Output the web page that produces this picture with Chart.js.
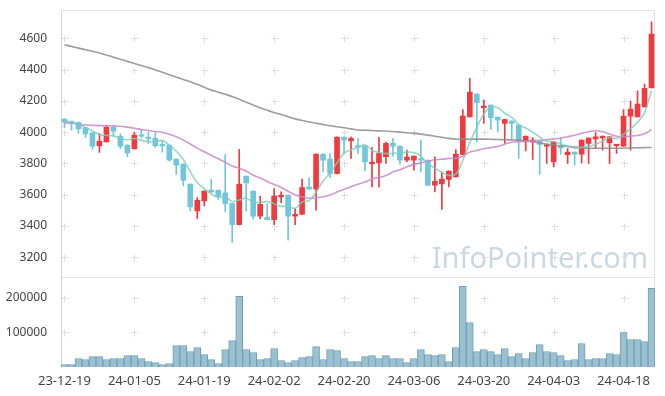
<!DOCTYPE html>
<html><head><meta charset="utf-8">
<script src="https://cdn.jsdelivr.net/npm/chart.js@4.4.1/dist/chart.umd.min.js"></script>
<style>html,body{margin:0;padding:0;background:#fff;}canvas{display:block;}</style>
</head><body>
<canvas id="c" width="665" height="396"></canvas>
<script>
const dates = ["23-12-19","23-12-20","23-12-21","23-12-22","23-12-26","23-12-27","23-12-28","24-01-02","24-01-03","24-01-04",
"24-01-05","24-01-08","24-01-09","24-01-10","24-01-11","24-01-12","24-01-15","24-01-16","24-01-17","24-01-18",
"24-01-19","24-01-22","24-01-23","24-01-24","24-01-25","24-01-26","24-01-29","24-01-30","24-01-31","24-02-01",
"24-02-02","24-02-05","24-02-06","24-02-07","24-02-08","24-02-13","24-02-14","24-02-15","24-02-16","24-02-19",
"24-02-20","24-02-21","24-02-22","24-02-23","24-02-26","24-02-27","24-02-28","24-02-29","24-03-04","24-03-05",
"24-03-06","24-03-07","24-03-08","24-03-11","24-03-12","24-03-13","24-03-14","24-03-15","24-03-18","24-03-19",
"24-03-20","24-03-21","24-03-22","24-03-25","24-03-26","24-03-27","24-03-28","24-03-29","24-04-01","24-04-02",
"24-04-03","24-04-04","24-04-05","24-04-08","24-04-09","24-04-11","24-04-12","24-04-15","24-04-16","24-04-17",
"24-04-18","24-04-19","24-04-22","24-04-23","24-04-24"];
const opens = [4083,4070,4062,4028,3996,3912,3938,4032,3974,3917,
3893,3983,3968,3960,3919,3917,3827,3795,3667,3496,
3560,3628,3628,3611,3543,3408,3718,3622,3462,3455,
3440,3585,3596,3462,3474,3649,3635,3859,3827,3735,
3968,3944,3910,3910,3797,3803,3842,3928,3910,3821,
3821,3825,3820,3660,3669,3697,3714,3857,4098,4244,
4156,4173,4096,4056,4071,4045,3938,3938,3942,3910,
3810,3910,3855,3872,3859,3928,3957,3963,3932,3913,
3910,4102,4098,4162,4284];
const highs = [4085,4072,4066,4030,3998,3992,4045,4034,3989,3919,
3998,4017,4000,3998,3944,3919,3829,3797,3669,3581,
3625,3697,3630,3857,3545,3889,3720,3624,3590,3543,
3639,3617,3598,3511,3699,3707,3861,3861,3862,3970,
3970,3970,3960,3912,3902,3966,3936,3960,3912,3885,
3848,3949,3822,3842,3746,3752,3889,4145,4344,4246,
4205,4175,4098,4083,4073,4047,3976,3966,3944,3921,
3940,3963,3895,3874,3951,3964,3998,3976,3972,3919,
4145,4200,4265,4308,4707];
const lows = [4028,4013,3992,3966,3889,3870,3936,3976,3893,3842,
3891,3962,3928,3902,3872,3816,3729,3656,3496,3447,
3528,3613,3569,3489,3293,3406,3496,3444,3444,3438,
3408,3549,3308,3408,3472,3633,3500,3746,3710,3733,
3859,3832,3864,3752,3649,3649,3799,3846,3795,3810,
3756,3746,3658,3617,3505,3649,3712,3855,4096,3938,
4056,4017,4002,3928,3953,3832,3880,3825,3729,3799,
3778,3859,3799,3788,3803,3799,3898,3885,3799,3864,
3908,3885,4096,4160,4282];
const closes = [4064,4058,4021,3989,3910,3942,4032,4006,3910,3867,
3981,3974,3957,3912,3912,3821,3789,3692,3521,3564,
3622,3617,3590,3543,3408,3667,3675,3462,3538,3440,
3590,3596,3462,3474,3645,3635,3859,3820,3735,3968,
3949,3960,3904,3810,3808,3863,3928,3910,3821,3840,
3846,3820,3660,3686,3699,3750,3859,4103,4256,4188,
4167,4092,4077,4081,4056,3944,3974,3949,3921,3919,
3938,3898,3872,3859,3949,3962,3970,3974,3970,3917,
4102,4147,4180,4280,4628];
const volumes = [7100,7000,24500,21600,30000,30000,21600,24500,24500,33000,
33000,24500,15800,12900,7100,10000,62000,62000,44700,56200,
36000,21600,10000,50500,76500,203600,50500,41800,21600,24500,
53500,18700,12900,18700,27400,30000,59000,21600,50500,47600,
24500,15800,15800,30000,33000,24500,33000,24500,24500,12900,
24500,50500,36000,33000,36000,15800,56200,232600,128400,44700,
50500,44700,36000,53500,30000,38900,24500,41800,65000,44700,
41800,33000,18700,21600,67800,21600,24500,24500,38900,36000,
99500,79300,79300,73500,226800];
const ma5 = [4072,4063,4050,4030,4008,3984,3979,3976,3960,3951,
3959,3948,3938,3938,3947,3915,3878,3825,3747,3677,
3638,3603,3583,3587,3556,3565,3577,3551,3550,3556,
3541,3525,3525,3512,3553,3562,3615,3687,3739,3803,
3866,3886,3903,3918,3886,3869,3863,3864,3866,3872,
3869,3847,3797,3770,3742,3723,3731,3819,3933,4031,
4115,4161,4156,4121,4095,4050,4026,4001,3969,3941,
3940,3925,3910,3897,3903,3908,3922,3943,3965,3959,
3987,4022,4063,4125,4267];
const ma20 = [4060,4057,4051,4046,4043,4042,4041,4040,4038,4032,
4025,4017,4010,4004,3998,3987,3970,3949,3924,3896,
3874,3852,3830,3808,3783,3769,3751,3724,3706,3684,
3665,3646,3621,3599,3586,3577,3580,3586,3597,3617,
3634,3651,3667,3680,3700,3710,3722,3745,3759,3779,
3792,3803,3813,3823,3826,3832,3832,3846,3872,3883,
3894,3901,3909,3923,3935,3939,3941,3943,3948,3952,
3957,3961,3971,3980,3993,4003,4009,4002,3988,3974,
3971,3974,3979,3989,4018];
const maLong = [4559,4549,4538,4528,4518,4507,4494,4480,4467,4453,
4440,4426,4413,4398,4383,4367,4352,4337,4322,4306,
4287,4269,4256,4242,4228,4210,4192,4174,4156,4140,
4126,4113,4099,4085,4074,4065,4057,4049,4041,4034,
4028,4021,4014,4012,4010,4008,4007,4004,4000,3996,
3992,3987,3981,3974,3967,3960,3955,3955,3955,3955,
3955,3954,3953,3951,3950,3949,3944,3938,3931,3924,
3918,3913,3909,3905,3901,3897,3897,3897,3897,3897,
3897,3899,3900,3901,3902];
const priceTicks = [3200,3400,3600,3800,4000,4200,4400,4600];
const volumeTicks = [100000,200000];
const xLabelEvery = 10;

const UP = '#ee3b3f', DOWN = '#6fc6dd';
const candleColors = closes.map((c,i)=> c >= opens[i] ? UP : DOWN);
const FONT = '"Noto Sans", "DejaVu Sans", sans-serif';

const decor = {
  id: 'decor',
  beforeDatasetsDraw(chart) {
    const {ctx, chartArea} = chart;
    const x = chart.scales.x, y = chart.scales.y, yv = chart.scales.yv;
    ctx.save();
    ctx.fillStyle = '#c9d8e2';
    ctx.font = '29px ' + FONT;
    ctx.textAlign = 'right';
    ctx.textBaseline = 'alphabetic';
    ctx.fillText('InfoPointer.com', chartArea.right - 7, y.bottom - 9);
    ctx.strokeStyle = '#dedede';
    ctx.lineWidth = 1;
    ctx.beginPath();
    const xs = [];
    for (let i = 0; i < dates.length; i += xLabelEvery) xs.push(Math.round(x.getPixelForValue(i)) + 0.5);
    const ys = priceTicks.map(v => Math.round(y.getPixelForValue(v)) + 0.5)
      .concat(volumeTicks.map(v => Math.round(yv.getPixelForValue(v)) + 0.5));
    xs.forEach(px => ys.forEach(py => {
      ctx.moveTo(px - 3, py); ctx.lineTo(px + 4, py);
      ctx.moveTo(px, py - 3); ctx.lineTo(px, py + 4);
    }));
    ctx.stroke();
    ctx.strokeStyle = '#e2e2e2';
    ctx.beginPath();
    const l = Math.round(chartArea.left) + 0.5, r = Math.round(chartArea.right) - 0.5;
    const t = Math.round(chartArea.top) + 0.5, b = Math.round(chartArea.bottom) - 0.5;
    const sep = Math.round(y.bottom) + 0.5;
    ctx.moveTo(l, t); ctx.lineTo(r, t); ctx.lineTo(r, b);
    ctx.moveTo(l, sep); ctx.lineTo(r, sep);
    ctx.stroke();
    ctx.strokeStyle = '#d4d4d4';
    ctx.beginPath(); ctx.moveTo(l, t); ctx.lineTo(l, b); ctx.stroke();
    ctx.restore();
  }
};

const fitY = s => { s.width = 61; s.paddingTop = 0; s.paddingBottom = 0; };

new Chart(document.getElementById('c'), {
  type: 'bar',
  data: {
    labels: dates,
    datasets: [
      { type:'line', label:'MA5', data: ma5, yAxisID:'y', borderColor:'rgba(125,205,185,0.8)', borderWidth:1.6, pointRadius:0, tension:0.4, order:0 },
      { type:'line', label:'MA20', data: ma20, yAxisID:'y', borderColor:'rgba(200,135,200,0.85)', borderWidth:1.6, pointRadius:0, tension:0.4, order:0 },
      { type:'line', label:'MA', data: maLong, yAxisID:'y', borderColor:'rgba(140,140,140,0.85)', borderWidth:1.6, pointRadius:0, tension:0.4, order:0 },
      { label:'body', data: opens.map((o,i)=>[o, closes[i]]), yAxisID:'y', backgroundColor: candleColors, barThickness:5, minBarLength:1.5, grouped:false, order:1 },
      { label:'wick', data: lows.map((lo,i)=>[lo, highs[i]]), yAxisID:'y', backgroundColor: candleColors, barThickness:1, grouped:false, order:2 },
      { label:'volume', data: volumes, yAxisID:'yv', backgroundColor:'#9bc0d0', borderColor:'#70a0b5', borderWidth:1, barPercentage:1, categoryPercentage:1, grouped:false, order:3 }
    ]
  },
  options: {
    responsive: false,
    animation: false,
    devicePixelRatio: 1,
    layout: { padding: { top: 10, right: 10, left: 0, bottom: 0 } },
    plugins: { legend: { display:false }, tooltip: { enabled:false } },
    scales: {
      x: {
        offset: true,
        grid: { display:false },
        border: { display:false },
        afterFit: s => { s.height = 29; s.paddingLeft = 0; s.paddingRight = 0; },
        ticks: { autoSkip:false, maxRotation:0, minRotation:0, padding:-2, color:'#444',
          font: { size:13, family: FONT },
          callback: (v, i) => i % xLabelEvery === 0 ? dates[i] : '' }
      },
      yv: {
        position:'left', stack:'main', stackWeight: 1,
        min: 0, max: 259500,
        afterBuildTicks: s => { s.ticks = volumeTicks.map(v => ({ value: v })); },
        afterFit: fitY,
        grid: { display:false }, border: { display:false },
        ticks: { padding:6, color:'#444', font: { size:12, family: FONT }, callback: v => String(v) }
      },
      y: {
        position:'left', stack:'main', stackWeight: 2.97,
        min: 3072, max: 4782,
        afterBuildTicks: s => { s.ticks = priceTicks.map(v => ({ value: v })); },
        afterFit: fitY,
        grid: { display:false }, border: { display:false },
        ticks: { padding:6, color:'#444', font: { size:12, family: FONT }, callback: v => String(v) }
      }
    }
  },
  plugins: [decor]
});
</script>
</body></html>
